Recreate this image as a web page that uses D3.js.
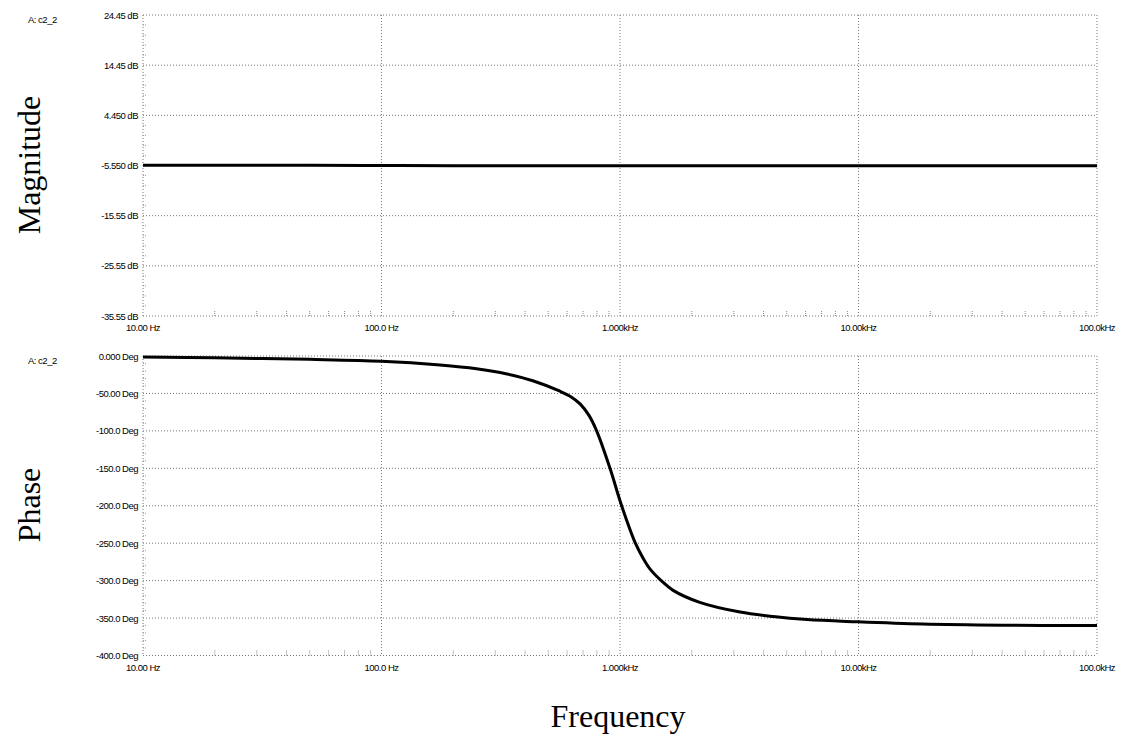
<!DOCTYPE html>
<html><head><meta charset="utf-8">
<script src="https://cdn.jsdelivr.net/npm/d3@7"></script>
<style>
body{margin:0;background:#fff}
.tl{font-family:"Liberation Sans Narrow","Arial Narrow","Liberation Sans",Arial,sans-serif;font-size:9.5px;letter-spacing:-0.5px;fill:#000}
.title{font-family:"Liberation Serif","Times New Roman",serif;font-size:32px;fill:#000}
</style>
</head><body><svg id="c" width="1126" height="735"></svg>
<script>
const decadeTicks = [10, 100, 1000, 10000, 100000];
const freqLabels = ["10.00 Hz", "100.0 Hz", "1.000kHz", "10.00kHz", "100.0kHz"];
const magTicks = [24.45, 14.45, 4.45, -5.55, -15.55, -25.55, -35.55];
const magLabels = ["24.45 dB", "14.45 dB", "4.450 dB", "-5.550 dB", "-15.55 dB", "-25.55 dB", "-35.55 dB"];
const phaseTicks = [0, -50, -100, -150, -200, -250, -300, -350, -400];
const phaseLabels = ["0.000 Deg", "-50.00 Deg", "-100.0 Deg", "-150.0 Deg", "-200.0 Deg", "-250.0 Deg", "-300.0 Deg", "-350.0 Deg", "-400.0 Deg"];
const traceName = "A: c2_2";

const magFreq = [10, 20, 50, 100, 200, 500, 1000, 2000, 5000, 10000, 20000, 50000, 100000];
const magValues = [-5.5, -5.5, -5.52, -5.55, -5.58, -5.6, -5.6, -5.6, -5.6, -5.6, -5.6, -5.6, -5.6];

const phaseFreq = [10, 20, 50, 100, 176, 250, 336, 431, 560, 620, 680, 740, 798, 908, 1016, 1160, 1250, 1340, 1500, 1670, 2160, 3190, 4390, 6080, 9860, 18600, 40000, 100000];
const phaseValues = [-1.5, -2.5, -4.5, -7, -12, -17, -24, -33, -47, -54, -64, -79, -100, -150, -200, -250, -270, -285, -301, -313, -329, -342, -348, -352, -355, -358, -359.5, -360];

const svg = d3.select("#c");
const x = d3.scaleLog().domain([10, 100000]).range([143, 1097]);
const yMag = d3.scaleLinear().domain([-35.55, 24.45]).range([316, 15]);
const yPh = d3.scaleLinear().domain([-400, 0]).range([655.5, 356]);

function panel(y, ticks, labels, minorStep) {
  const g = svg.append("g");
  const [y0, y1] = y.range();
  const [d0, d1] = y.domain();
  g.selectAll("line.hg").data(ticks).join("line")
    .attr("x1", x(10)).attr("x2", x(100000))
    .attr("y1", d => y(d)).attr("y2", d => y(d))
    .attr("stroke", "#777").attr("stroke-width", 1).attr("stroke-dasharray", "1,2");
  g.selectAll("line.vg").data(decadeTicks).join("line")
    .attr("x1", d => x(d)).attr("x2", d => x(d))
    .attr("y1", y1).attr("y2", y0)
    .attr("stroke", "#777").attr("stroke-width", 1).attr("stroke-dasharray", "1,2");
  const minors = d3.range(d0, d1 + 1e-6, minorStep).filter(v => !ticks.some(t => Math.abs(t - v) < 1e-6));
  g.selectAll("line.my").data(minors).join("line")
    .attr("x1", x(10)).attr("x2", x(10) + 4)
    .attr("y1", d => y(d)).attr("y2", d => y(d))
    .attr("stroke", "#999").attr("stroke-width", 1).attr("stroke-dasharray", "1,1");
  const xm = [];
  for (const dec of [10, 100, 1000, 10000]) for (let k = 2; k <= 9; k++) xm.push(dec * k);
  g.selectAll("line.mx").data(xm).join("line")
    .attr("x1", d => x(d)).attr("x2", d => x(d))
    .attr("y1", y0).attr("y2", y0 - 5)
    .attr("stroke", "#888").attr("stroke-width", 1).attr("stroke-dasharray", "1,1");
  g.selectAll("text.yl").data(ticks).join("text").attr("class", "tl")
    .attr("x", 138).attr("y", d => y(d) + 3.5).attr("text-anchor", "end")
    .text((d, i) => labels[i]);
  g.selectAll("text.xl").data(decadeTicks).join("text").attr("class", "tl")
    .attr("x", d => x(d)).attr("y", y0 + 15).attr("text-anchor", "middle")
    .text((d, i) => freqLabels[i]);
  g.append("text").attr("class", "tl").attr("x", 28).attr("y", y1 + 8).text(traceName);
  return g;
}

panel(yMag, magTicks, magLabels, 2);
panel(yPh, phaseTicks, phaseLabels, 10);

const magLine = d3.line().x((d, i) => x(magFreq[i])).y(d => yMag(d)).curve(d3.curveMonotoneX);
svg.append("path").attr("d", magLine(magValues)).attr("fill", "none").attr("stroke", "#000").attr("stroke-width", 3);

const phLine = d3.line().x((d, i) => x(phaseFreq[i])).y(d => yPh(d)).curve(d3.curveCatmullRom.alpha(0.5));
svg.append("path").attr("d", phLine(phaseValues)).attr("fill", "none").attr("stroke", "#000").attr("stroke-width", 3);

svg.append("text").attr("class", "title").attr("text-anchor", "middle")
  .attr("transform", "translate(40,165) rotate(-90)").text("Magnitude");
svg.append("text").attr("class", "title").attr("text-anchor", "middle")
  .attr("transform", "translate(40,505) rotate(-90)").text("Phase");
svg.append("text").attr("class", "title").attr("text-anchor", "middle")
  .attr("x", 618).attr("y", 727).text("Frequency");
</script>
</body></html>
